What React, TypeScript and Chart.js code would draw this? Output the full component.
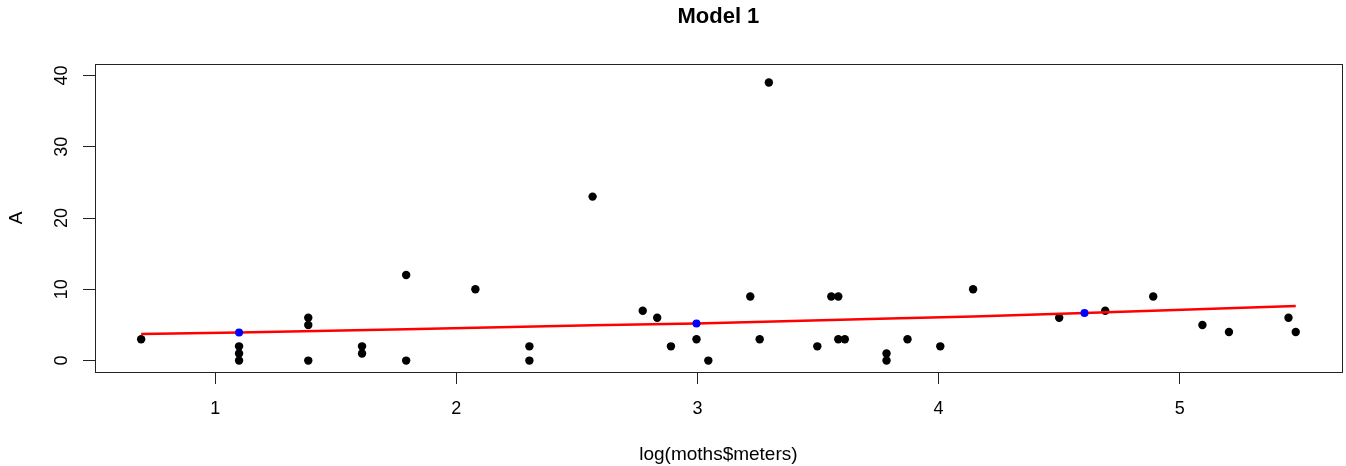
import React, { useEffect, useRef } from "react";
import { Chart, registerables } from "chart.js";

Chart.register(...registerables);

// Observed points (log of meters, A)
const obsX = [
  0.693, 1.099, 1.099, 1.099, 1.386, 1.386, 1.386, 1.609, 1.609, 1.792,
  1.792, 2.079, 2.303, 2.303, 2.565, 2.773, 2.833, 2.890, 2.996, 3.045,
  3.219, 3.258, 3.296, 3.497, 3.555, 3.584, 3.584, 3.611, 3.784, 3.784,
  3.871, 4.007, 4.143, 4.500, 4.691, 4.890, 5.094, 5.204, 5.451, 5.481,
];
const obsY = [
  3, 2, 1, 0, 6, 5, 0, 2, 1, 12,
  0, 10, 2, 0, 23, 7, 6, 2, 3, 0,
  9, 3, 39, 2, 9, 9, 3, 3, 1, 0,
  3, 2, 10, 6, 7, 9, 5, 4, 6, 4,
];

// Fitted curve
const fitX = [0.693, 1.099, 1.792, 2.565, 2.996, 3.754, 4.143, 4.605, 5.481];
const fitY = [3.73, 3.95, 4.38, 4.94, 5.22, 5.87, 6.2, 6.67, 7.65];

// Highlighted predictions
const predX = [1.099, 2.996, 4.605];
const predY = [3.95, 5.22, 6.67];

// Axes
const xTicks = [1, 2, 3, 4, 5];
const yTicks = [0, 10, 20, 30, 40];
const xRange = [0.5016, 5.672];
const yRange = [-1.6, 41.6];

const titleText = "Model 1";
const xLabel = "log(moths$meters)";
const yLabel = "A";

const FONT = '"Liberation Sans", Arial, Helvetica, sans-serif';

export default function App() {
  const ref = useRef<HTMLCanvasElement | null>(null);

  useEffect(() => {
    const canvas = ref.current;
    if (!canvas) return;

    const textPlugin = {
      id: "rText",
      afterDraw(chart: any) {
        const ctx = chart.ctx;
        const a = chart.chartArea;
        const xs = chart.scales.x;
        const ys = chart.scales.y;
        ctx.save();
        // box
        ctx.strokeStyle = "#222";
        ctx.lineWidth = 1;
        ctx.strokeRect(Math.round(a.left) + 0.5, Math.round(a.top) + 0.5,
          Math.round(a.right - a.left), Math.round(a.bottom - a.top));
        ctx.fillStyle = "#000";
        // title
        ctx.font = `bold 22px ${FONT}`;
        ctx.textAlign = "center";
        ctx.textBaseline = "alphabetic";
        ctx.fillText(titleText, (a.left + a.right) / 2, 23);
        // x tick labels
        ctx.font = `18px ${FONT}`;
        ctx.textBaseline = "middle";
        xTicks.forEach((v) => {
          ctx.fillText(String(v), xs.getPixelForValue(v), 409);
        });
        // x label
        ctx.font = `19px ${FONT}`;
        ctx.textBaseline = "alphabetic";
        ctx.fillText(xLabel, (a.left + a.right) / 2, 460);
        // y tick labels (rotated)
        ctx.font = `18px ${FONT}`;
        yTicks.forEach((v) => {
          ctx.save();
          ctx.translate(62, ys.getPixelForValue(v));
          ctx.rotate(-Math.PI / 2);
          ctx.textAlign = "center";
          ctx.textBaseline = "middle";
          ctx.fillText(String(v), 0, 0);
          ctx.restore();
        });
        // y label
        ctx.font = `19px ${FONT}`;
        ctx.save();
        ctx.translate(17, (a.top + a.bottom) / 2);
        ctx.rotate(-Math.PI / 2);
        ctx.textAlign = "center";
        ctx.textBaseline = "middle";
        ctx.fillText(yLabel, 0, 0);
        ctx.restore();
        ctx.restore();
      },
    };

    const chart = new Chart(canvas, {
      type: "scatter",
      data: {
        datasets: [
          {
            label: "pred",
            data: predX.map((x, i) => ({ x, y: predY[i] })),
            backgroundColor: "#0000FF",
            borderWidth: 0,
            pointRadius: 4,
            order: 0,
          },
          {
            type: "line",
            label: "fit",
            data: fitX.map((x, i) => ({ x, y: fitY[i] })),
            borderColor: "#FF0000",
            borderWidth: 2.5,
            pointRadius: 0,
            showLine: true,
            fill: false,
            tension: 0,
            order: 1,
          } as any,
          {
            label: "obs",
            data: obsX.map((x, i) => ({ x, y: obsY[i] })),
            backgroundColor: "#000000",
            borderWidth: 0,
            pointRadius: 4.2,
            order: 2,
          },
        ],
      },
      options: {
        animation: false,
        responsive: false,
        devicePixelRatio: 1,
        layout: { padding: { top: 64, right: 4, left: 0, bottom: 0 } },
        plugins: {
          legend: { display: false },
          title: { display: false },
          tooltip: { enabled: false },
        },
        scales: {
          x: {
            type: "linear",
            min: xRange[0],
            max: xRange[1],
            afterBuildTicks: (s: any) => {
              s.ticks = xTicks.map((v) => ({ value: v }));
            },
            afterFit: (s: any) => {
              s.height = 94;
            },
            ticks: { display: false },
            border: { display: false },
            grid: {
              drawOnChartArea: false,
              drawTicks: true,
              tickLength: 12,
              color: "#222",
              lineWidth: 1,
            },
          },
          y: {
            type: "linear",
            min: yRange[0],
            max: yRange[1],
            afterBuildTicks: (s: any) => {
              s.ticks = yTicks.map((v) => ({ value: v }));
            },
            afterFit: (s: any) => {
              s.width = 95;
            },
            ticks: { display: false },
            border: { display: false },
            grid: {
              drawOnChartArea: false,
              drawTicks: true,
              tickLength: 12,
              color: "#222",
              lineWidth: 1,
            },
          },
        },
      } as any,
      plugins: [textPlugin],
    });

    return () => chart.destroy();
  }, []);

  return (
    <div style={{ position: "absolute", left: 0, top: 0, width: 1346, height: 466, background: "#fff" }}>
      <canvas ref={ref} width={1346} height={466} style={{ display: "block" }} />
    </div>
  );
}
